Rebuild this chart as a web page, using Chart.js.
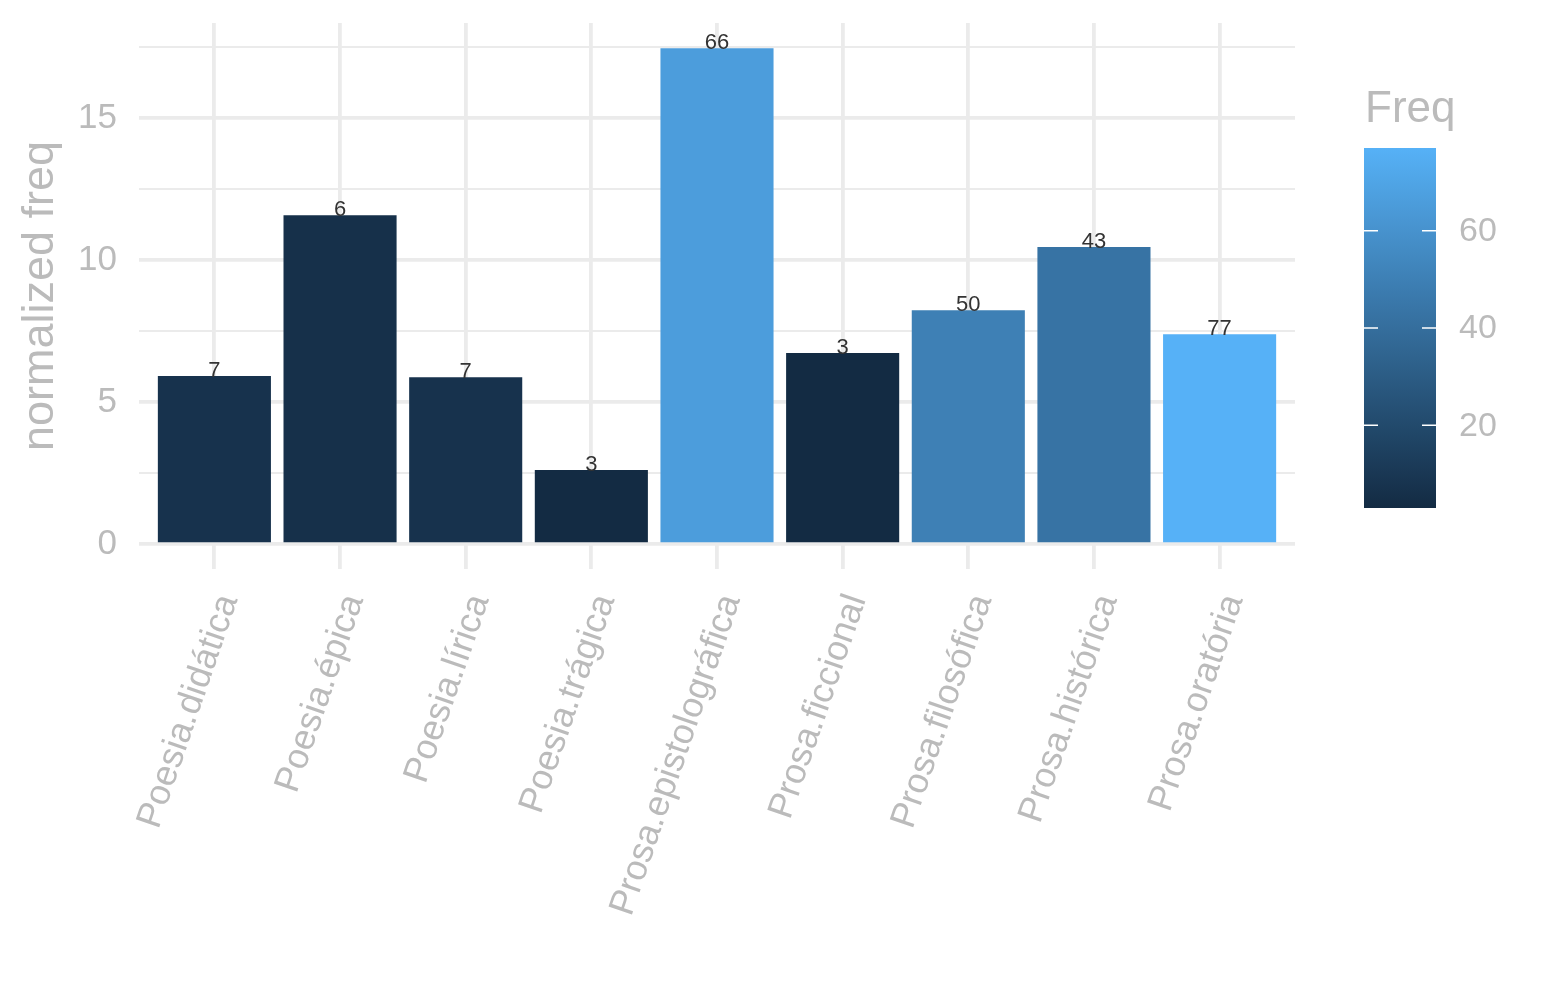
<!DOCTYPE html>
<html>
<head>
<meta charset="utf-8">
<script src="https://cdn.jsdelivr.net/npm/chart.js@4.4.1/dist/chart.umd.min.js"></script>
<style>
  html, body { margin: 0; padding: 0; background: #fff; }
  #wrap { width: 1545px; height: 1000px; position: relative; }
</style>
</head>
<body>
<div id="wrap"><canvas id="barChart"></canvas></div>
<script>
const categories = ['Poesia.didática', 'Poesia.épica', 'Poesia.lírica', 'Poesia.trágica',
    'Prosa.epistolográfica', 'Prosa.ficcional', 'Prosa.filosófica', 'Prosa.histórica', 'Prosa.oratória'];
const normFreq = [5.92, 11.58, 5.88, 2.61, 17.46, 6.73, 8.24, 10.46, 7.39];
const freq = [7, 6, 7, 3, 66, 3, 50, 43, 77];
const yTicks = [0, 5, 10, 15];
const legendTicks = [20, 40, 60];

const LOW = [19, 43, 67];    // #132B43
const HIGH = [86, 177, 247]; // #56B1F7
const fMin = Math.min(...freq);
const fMax = Math.max(...freq);
const GREY = '#BBBBBB';
const GRID = '#EBEBEB';
const FONT = '"Liberation Sans", Arial, sans-serif';

function freqColor(v) {
    const t = (v - fMin) / (fMax - fMin);
    const c = LOW.map((lo, i) => Math.round(lo + (HIGH[i] - lo) * t));
    return `rgb(${c[0]}, ${c[1]}, ${c[2]})`;
}

// value labels on top of each bar
const barLabels = {
    id: 'barLabels',
    afterDatasetsDraw(chart) {
        const ctx = chart.ctx;
        const meta = chart.getDatasetMeta(0);
        ctx.save();
        ctx.font = '22px ' + FONT;
        ctx.fillStyle = '#333333';
        ctx.textAlign = 'center';
        ctx.textBaseline = 'alphabetic';
        meta.data.forEach((bar, i) => {
            ctx.fillText(String(freq[i]), bar.x, bar.y + 1);
        });
        ctx.restore();
    }
};

// colourbar legend on the right
const colourBar = {
    id: 'colourBar',
    afterDraw(chart) {
        const ctx = chart.ctx;
        const left = chart.chartArea.right + 69;
        const w = 72;
        const top = 148;
        const h = 360;
        const yOf = v => top + h - (v - fMin) / (fMax - fMin) * h;
        ctx.save();
        const grad = ctx.createLinearGradient(0, top + h, 0, top);
        for (let s = 0; s <= 10; s++) {
            grad.addColorStop(s / 10, freqColor(fMin + (fMax - fMin) * s / 10));
        }
        ctx.fillStyle = grad;
        ctx.fillRect(left, top, w, h);

        ctx.strokeStyle = '#ffffff';
        ctx.lineWidth = 1.5;
        ctx.font = '34px ' + FONT;
        ctx.fillStyle = GREY;
        ctx.textAlign = 'left';
        ctx.textBaseline = 'middle';
        legendTicks.forEach(v => {
            const y = yOf(v);
            ctx.beginPath();
            ctx.moveTo(left, y); ctx.lineTo(left + 14, y);
            ctx.moveTo(left + w - 14, y); ctx.lineTo(left + w, y);
            ctx.stroke();
            ctx.fillText(String(v), left + w + 23, y + 1);
        });

        ctx.font = '44px ' + FONT;
        ctx.textBaseline = 'alphabetic';
        ctx.fillText('Freq', left + 1, 122);
        ctx.restore();
    }
};

const ctx = document.getElementById('barChart').getContext('2d');
window.barChart = new Chart(ctx, {
    type: 'bar',
    data: {
        datasets: [{
            label: 'normalized freq',
            data: normFreq.map((v, i) => ({ x: i, y: v })),
            backgroundColor: freq.map(freqColor),
            borderWidth: 0,
            barPercentage: 0.9,
            categoryPercentage: 1.0
        }]
    },
    options: {
        responsive: true,
        maintainAspectRatio: false,
        animation: false,
        layout: {
            padding: { top: 23, right: 250, bottom: 0, left: 0 }
        },
        plugins: {
            legend: { display: false },
            tooltip: { enabled: false }
        },
        scales: {
            x: {
                type: 'linear',
                min: -0.6,
                max: categories.length - 0.4,
                offset: false,
                grid: {
                    offset: false,
                    color: GRID,
                    lineWidth: 3.8,
                    drawTicks: false
                },
                border: { display: false },
                ticks: {
                    stepSize: 1,
                    includeBounds: false,
                    color: GREY,
                    font: { family: FONT, size: 36 },
                    minRotation: 71,
                    maxRotation: 71,
                    autoSkip: false,
                    labelOffset: 14,
                    padding: 20,
                    callback: v => categories[v] || ''
                },
                afterFit(scale) { scale.height = 431; }
            },
            y: {
                min: -0.875,
                max: 18.35,
                grid: {
                    color: GRID,
                    lineWidth: c => (c.tick && c.tick.value % 5 === 0) ? 3.8 : 2,
                    drawTicks: false
                },
                border: { display: false },
                ticks: {
                    stepSize: 2.5,
                    includeBounds: false,
                    color: GREY,
                    padding: 22,
                    font: { family: FONT, size: 35 },
                    callback: v => yTicks.includes(v) ? String(v) : ''
                },
                title: {
                    display: true,
                    text: 'normalized freq',
                    color: GREY,
                    font: { family: FONT, size: 45 },
                    padding: { top: 14, bottom: 0 }
                },
                afterFit(scale) {
                    scale.width = 139;
                    scale.paddingTop = 0;
                    scale.paddingBottom = 0;
                }
            }
        }
    },
    plugins: [barLabels, colourBar]
});
</script>
</body>
</html>
